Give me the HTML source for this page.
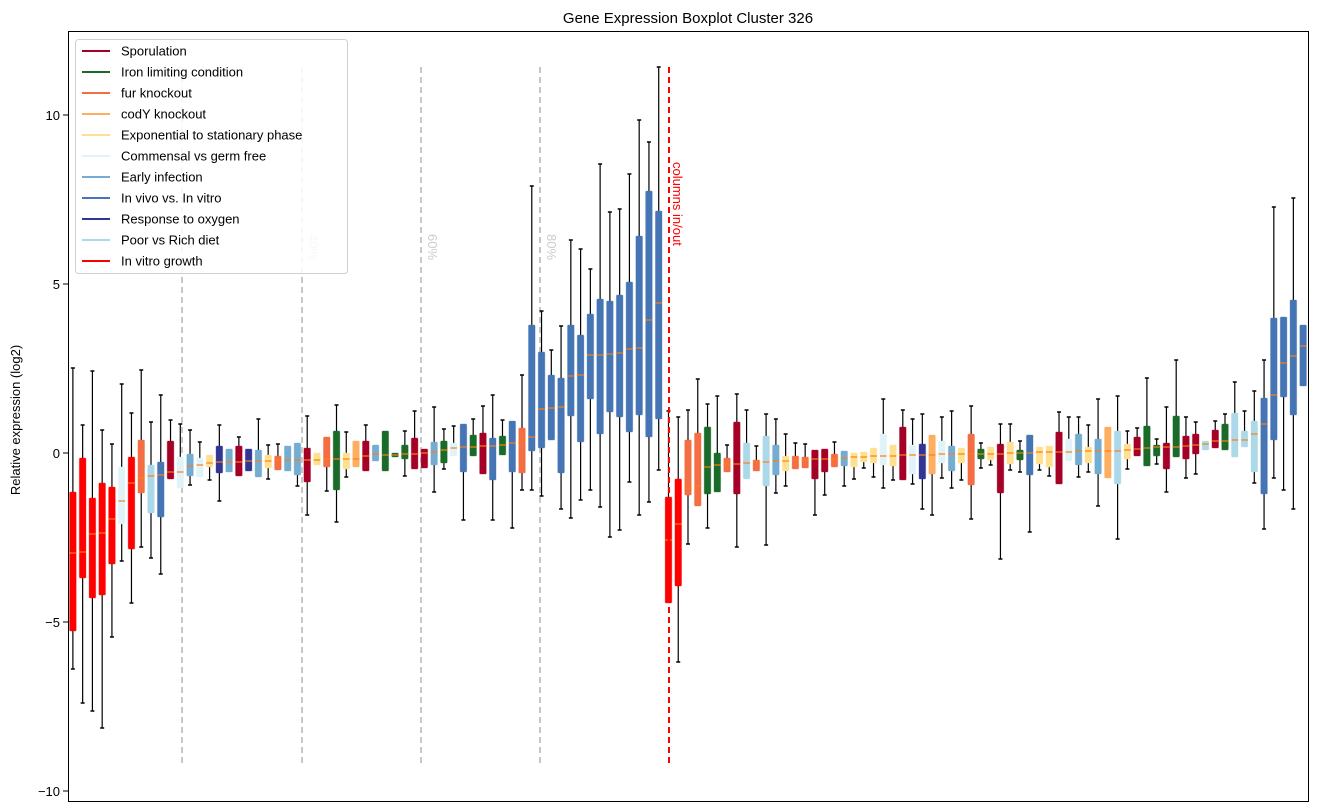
<!DOCTYPE html>
<html><head><meta charset="utf-8"><style>
html,body{margin:0;padding:0;background:#fff;}
svg{display:block;font-family:"Liberation Sans","DejaVu Sans",sans-serif;}
</style></head><body>
<svg id="s" width="1318" height="812" xmlns="http://www.w3.org/2000/svg">
<rect x="0" y="0" width="1318" height="812" fill="#fff"/>
<text x="688" y="23" font-size="15" text-anchor="middle">Gene Expression Boxplot Cluster 326</text>
<text transform="translate(20,420) rotate(-90)" font-size="13" text-anchor="middle">Relative expression (log2)</text>
<g font-size="13" text-anchor="end">
<text x="60" y="120">10</text><text x="60" y="289">5</text><text x="60" y="458">0</text><text x="60" y="627">−5</text><text x="60" y="796">−10</text>
</g>
<g stroke="#000" stroke-width="1">
<line x1="63" y1="115" x2="68" y2="115"/><line x1="63" y1="284" x2="68" y2="284"/><line x1="63" y1="453" x2="68" y2="453"/><line x1="63" y1="622" x2="68" y2="622"/><line x1="63" y1="791" x2="68" y2="791"/>
</g>
<g stroke="#c8c8c8" stroke-width="2" stroke-dasharray="6,4">
<line x1="182" y1="67" x2="182" y2="767"/><line x1="302" y1="67" x2="302" y2="767"/><line x1="421" y1="67" x2="421" y2="767"/><line x1="540" y1="67" x2="540" y2="767"/>
</g>
<g font-size="13" fill="#cccccc">
<text transform="translate(309,234) rotate(90)">40%</text>
<text transform="translate(428,234) rotate(90)">60%</text>
<text transform="translate(547,234) rotate(90)">80%</text>
</g>
<g id="boxes"></g>
<line x1="669" y1="67" x2="669" y2="767" stroke="#ff0000" stroke-width="2" stroke-dasharray="6,4"/>
<text transform="translate(673,162) rotate(90)" font-size="13" fill="#ff0000">columns in/out</text>
<rect x="68.5" y="31.5" width="1240" height="770" fill="none" stroke="#000" stroke-width="1"/>
<g id="leg">
<rect x="75.5" y="39.5" width="272" height="234" rx="3" fill="#fff" fill-opacity="0.85" stroke="#d0d0d0"/>
</g>
</svg>
<script>
var C={S:"#a50026",I:"#1a6b2a",F:"#f46d43",C:"#fdae61",E:"#fee090",M:"#e0f3f8",A:"#74add1",V:"#4575b4",O:"#313695",P:"#abd9e9",R:"#ff0000"};
var D=`R 492 631 553 368 669
R 458 578 552 425 703
R 498 598 534 371 711
R 483 595 533 430 728
R 487 564 519 444 637
M 467 524 501 384 561
R 457 549 483 413 603
F 440 493 478 370 547
P 465 513 476 422 558
V 462 517 475 395 574
S 441 479 472 420 479
M 457 488 472 424 488
A 454 476 466 430 485
M 458 477 465 442 477
E 455 467 463 455 480
O 446 473 462 425 501
A 449 472 462 449 472
S 446 476 462 437 476
O 449 471 461 449 471
A 450 477 461 419 477
E 455 468 461 445 479
F 456 470 460 444 470
A 446 471 460 446 471
A 443 475 460 443 486
S 448 482 460 416 515
E 453 465 460 453 465
F 437 467 459 437 491
I 431 490 459 405 522
E 453 469 459 432 477
C 441 467 459 441 467
S 441 471 456 425 471
A 445 461 454 445 461
I 431 471 455 431 471
I 453 457 455 453 457
I 445 459 454 431 476
S 438 469 454 411 469
S 449 468 453 449 468
A 442 465 452 407 492
I 441 463 450 429 469
M 443 456 448 426 456
V 424 472 447 424 520
I 435 456 447 419 456
S 433 474 446 406 474
V 438 480 446 395 520
I 436 455 445 420 455
V 421 472 443 421 528
F 428 473 440 375 490
V 325 451 437 186 490
V 352 448 409 311 496
V 375 440 408 350 440
V 378 473 407 326 509
V 325 416 376 240 518
V 335 442 375 249 500
V 314 399 355 269 490
V 299 434 355 164 507
V 301 412 354 212 537
V 295 417 353 209 530
V 282 432 349 174 482
V 236 415 348 120 515
V 191 437 320 142 502
V 211 419 303 67 470
R 497 603 540 411 603
R 479 586 524 417 662
F 440 495 488 410 544
F 433 506 486 379 506
I 427 494 467 404 528
I 453 492 465 396 492
F 458 472 464 445 472
S 422 494 464 394 547
P 443 479 463 410 479
F 460 471 462 446 471
P 436 486 462 414 545
A 445 475 461 419 493
E 456 471 461 434 486
F 456 469 460 443 469
F 457 468 460 444 468
S 450 479 459 450 515
S 449 472 459 449 495
F 454 467 459 442 467
A 451 466 458 451 486
E 453 467 457 453 479
E 452 462 457 452 468
E 448 463 456 448 477
M 434 465 456 399 488
E 445 466 456 445 480
S 427 480 455 410 480
M 445 474 455 419 484
O 444 479 455 414 509
C 435 474 455 435 515
M 441 463 454 417 478
A 446 471 454 411 488
E 448 463 454 448 480
F 434 485 454 406 519
I 449 459 454 443 468
E 447 460 454 447 465
S 444 493 454 424 559
E 442 464 453 424 470
I 450 460 453 441 472
V 435 475 453 435 532
E 447 464 452 447 470
E 446 467 452 446 476
S 432 484 452 412 484
M 439 461 452 417 461
A 434 465 451 417 477
E 447 463 451 425 472
A 439 474 451 399 506
C 427 478 451 427 478
P 431 484 451 396 539
E 444 459 450 431 469
S 437 456 449 428 456
I 426 466 448 378 466
I 445 456 447 439 464
S 443 469 447 407 492
I 416 457 447 360 457
S 436 459 446 417 478
S 434 454 445 422 474
P 441 450 444 441 450
S 430 448 441 421 448
I 424 450 441 414 450
P 413 457 440 382 457
P 431 447 440 411 447
P 421 472 434 391 483
V 398 494 424 360 529
V 318 440 395 207 478
V 317 397 363 317 490
V 300 415 356 198 509
V 325 386 346 325 386`.split("\n");
var g=document.getElementById("boxes"),h="";
var sp=1240/127;
D.forEach(function(l,i){var a=l.trim().split(/\s+/),c=C[a[0]],t=+a[1],b=+a[2],m=+a[3],wt=+a[4],wb=+a[5];
var x=68+(i+0.5)*sp,w=6.6;
if(wt<t){h+='<line x1="'+x+'" y1="'+wt+'" x2="'+x+'" y2="'+t+'" stroke="#000" stroke-width="1.2"/><line x1="'+(x-2)+'" y1="'+wt+'" x2="'+(x+2)+'" y2="'+wt+'" stroke="#000" stroke-width="1.5"/>';}
if(wb>b){h+='<line x1="'+x+'" y1="'+b+'" x2="'+x+'" y2="'+wb+'" stroke="#000" stroke-width="1.2"/><line x1="'+(x-2)+'" y1="'+wb+'" x2="'+(x+2)+'" y2="'+wb+'" stroke="#000" stroke-width="1.5"/>';}
h+='<rect x="'+(x-w/2)+'" y="'+t+'" width="'+w+'" height="'+Math.max(b-t,1.5)+'" rx="1" fill="'+c+'" stroke="'+c+'" stroke-opacity="0.35" stroke-width="1"/>';
h+='<line x1="'+(x-w/2)+'" y1="'+m+'" x2="'+(x+w/2)+'" y2="'+m+'" stroke="#ff7f0e" stroke-width="1.2"/>';
});
g.innerHTML=h;
var L=[["Sporulation","#a50026"],["Iron limiting condition","#1a6b2a"],["fur knockout","#f46d43"],["codY knockout","#fdae61"],["Exponential to stationary phase","#fee090"],["Commensal vs germ free","#e0f3f8"],["Early infection","#74add1"],["In vivo vs. In vitro","#4575b4"],["Response to oxygen","#313695"],["Poor vs Rich diet","#abd9e9"],["In vitro growth","#ff0000"]];
var lh="";L.forEach(function(e,i){var y=51+i*21;lh+='<line x1="82" y1="'+y+'" x2="110" y2="'+y+'" stroke="'+e[1]+'" stroke-width="2"/><text x="121" y="'+(y+4.5)+'" font-size="13">'+e[0]+'</text>';});
document.getElementById("leg").innerHTML+=lh;
</script>
</body></html>
